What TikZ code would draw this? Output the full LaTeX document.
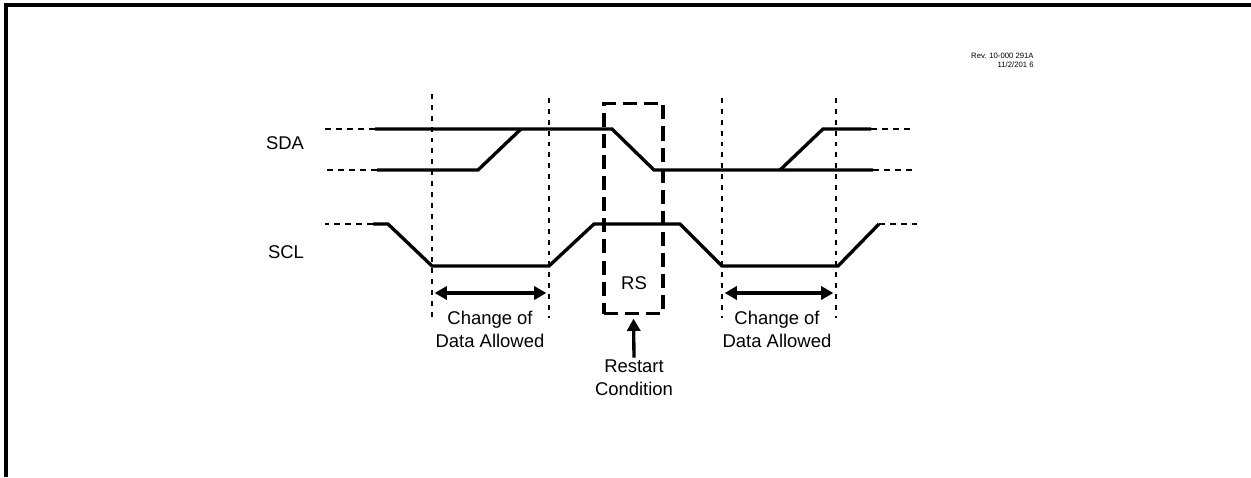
\documentclass[tikz,border=0pt]{standalone}
\usepackage{fontspec}
\setmainfont{Liberation Sans}
\usetikzlibrary{arrows.meta}
\begin{document}
\begin{tikzpicture}[x=0.02cm,y=-0.02cm,
    sig/.style={line width=1.9pt},
    sigcont/.style={line width=1.3pt,dash pattern=on 3.5pt off 2.8pt},
    guide/.style={line width=0.8pt,dash pattern=on 2.8pt off 3.4pt},
    rsbox/.style={draw,line width=1.8pt,dash pattern=on 8pt off 4pt,
      minimum width=33.5pt,minimum height=119.6pt,inner sep=0pt},
    arrup/.style={line width=1.9pt,-{Triangle[length=7pt,width=7.5pt]}},
    arrboth/.style={line width=1.9pt,{Triangle[length=7pt,width=7.5pt]}-{Triangle[length=7pt,width=7.5pt]}},
    lbl/.style={font=\fontsize{10.5}{13}\selectfont,align=center,inner sep=1pt}]
  \useasboundingbox (0,0) rectangle (1251,477);
  \draw [line width=1.8pt] (6,477) to (6,5) to (1251,5);
  % revision stamp
  \node [font=\fontsize{4.4}{5}\selectfont,align=right,anchor=east,inner sep=0pt] (rev) at (1034,60.5)
    {Rev. 10-000 291A\\11/2/201 6};
  \node [lbl] (sda) at (285,143) {SDA};
  \node [lbl] (scl) at (286,252) {SCL};
  % SDA
  \draw [sigcont] (375,129) to (325,129);
  \draw [sig] (375,129) to (612,129) to (654,170) to (873,170);
  \draw [sigcont] (873,170) to (917,170);
  \draw [sigcont] (377,170) to (323,170);
  \draw [sig] (377,170) to (478,170) to (521,129);
  \draw [sig] (780,170) to (823,129) to (871,129);
  \draw [sigcont] (871,129) to (913,129);
  % SCL
  \draw [sigcont] (373,224) to (325,224);
  \draw [sig] (373,224) to (388,224) to (432,266) to (549,266) to (594,224)
    to (680,224) to (722,266) to (838,266) to (879,224);
  \draw [sigcont] (879,224) to (917,224);
  % guides
  \coordinate (g1) at (432,293);
  \coordinate (g2) at (549,293);
  \coordinate (g3) at (722,293);
  \coordinate (g4) at (836,293);
  \draw [guide] (432,94) to (432,318);
  \draw [guide] (549,98) to (549,318);
  \draw [guide] (722,98) to (722,318);
  \draw [guide] (836,98) to (836,318);
  \draw [arrboth,shorten <=1.5pt,shorten >=1.5pt] (g1) to (g2);
  \draw [arrboth,shorten <=1.5pt,shorten >=1.5pt] (g3) to (g4);
  \node [lbl] (chg1) at (490,329.5) {Change of\\Data Allowed};
  \node [lbl] (chg2) at (777,329.5) {Change of\\Data Allowed};
  % restart
  \node [rsbox] (rs) at (633.5,208.5) {};
  \node [lbl] (rslbl) at (634,283) {RS};
  \node [lbl] (restart) at (634,377.5) {Restart\\Condition};
  \draw [arrup,shorten >=2pt] (restart.north) to (rs.south);
\end{tikzpicture}
\end{document}
